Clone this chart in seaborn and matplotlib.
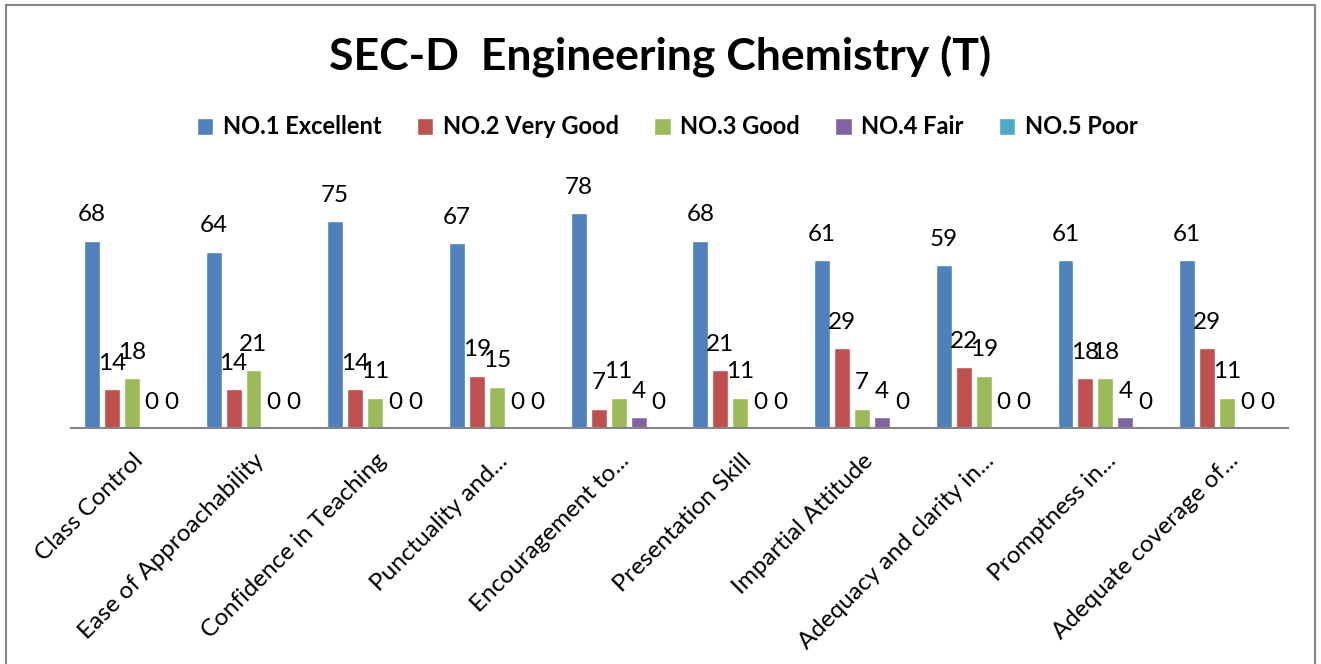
import pandas as pd
import matplotlib.pyplot as plt
import seaborn as sns
from matplotlib.patches import Rectangle

# 1. Data
categories = ['Class Control', 'Ease of Approachability', 'Confidence in Teaching',
              'Punctuality and...', 'Encouragement to...', 'Presentation Skill',
              'Impartial Attitude', 'Adequacy and clarity in...', 'Promptness in...',
              'Adequate coverage of...']
series_names = ['NO.1 Excellent', 'NO.2 Very Good', 'NO.3 Good', 'NO.4 Fair', 'NO.5 Poor']

excellent = [68, 64, 75, 67, 78, 68, 61, 59, 61, 61]
very_good = [14, 14, 14, 19, 7, 21, 29, 22, 18, 29]
good = [18, 21, 11, 15, 11, 11, 7, 19, 18, 11]
fair = [0, 0, 0, 0, 4, 0, 4, 0, 4, 0]
poor = [0, 0, 0, 0, 0, 0, 0, 0, 0, 0]

colors = ['#4F81BD', '#C0504D', '#9BBB59', '#8064A2', '#4BACC6']

rows = []
for name, vals in zip(series_names, [excellent, very_good, good, fair, poor]):
    for cat, v in zip(categories, vals):
        rows.append({'Parameter': cat, 'Rating': name, 'Count': v})
df = pd.DataFrame(rows)

# 2. Figure
sns.set_style("white")
plt.rcParams['font.family'] = ['Lato', 'DejaVu Sans']
plt.rcParams['text.color'] = 'black'
plt.rcParams['xtick.color'] = 'black'
plt.rcParams['xtick.labelcolor'] = 'black'

fig = plt.figure(figsize=(13.21, 6.64), dpi=100)
ax = fig.add_axes([0.0537, 0.3554, 0.9213, 0.357])

sns.barplot(data=df, x='Parameter', y='Count', hue='Rating', order=categories,
            hue_order=series_names, palette=colors, width=0.82, gap=0.2,
            ax=ax, saturation=1)

for cont in ax.containers:
    ax.bar_label(cont, fmt='%d', padding=11, fontsize=17.5, color='black')

ax.set_ylim(0, 86)
ax.set_xlabel('')
ax.set_ylabel('')
ax.set_yticks([])
for side in ['top', 'right', 'left']:
    ax.spines[side].set_visible(False)
ax.spines['bottom'].set_color('#868686')
ax.spines['bottom'].set_linewidth(1.5)
ax.tick_params(axis='x', length=0, pad=16)
plt.setp(ax.get_xticklabels(), rotation=45, ha='right', rotation_mode='anchor',
         fontsize=17.5, color='black')

# legend
handles, labels = ax.get_legend_handles_labels()
ax.get_legend().remove()
fig.legend(handles, labels, loc='center', bbox_to_anchor=(0.505, 1 - 127 / 664), ncol=5,
           frameon=False, handlelength=0.7, handleheight=0.7, handletextpad=0.4,
           columnspacing=1.5, prop={'weight': 'bold', 'size': 17})

fig.text(0.5, 1 - 57 / 664, 'SEC-D  Engineering Chemistry (T)', ha='center', va='center',
         fontsize=32, fontweight='bold', color='black')

# outer chart border
fig.patches.append(Rectangle((6 / 1321, -0.01), 1309 / 1321, 1.01 - 5 / 664,
                             transform=fig.transFigure, fill=False,
                             edgecolor='#868686', linewidth=1.5))

fig.savefig('out.png', dpi=100)
